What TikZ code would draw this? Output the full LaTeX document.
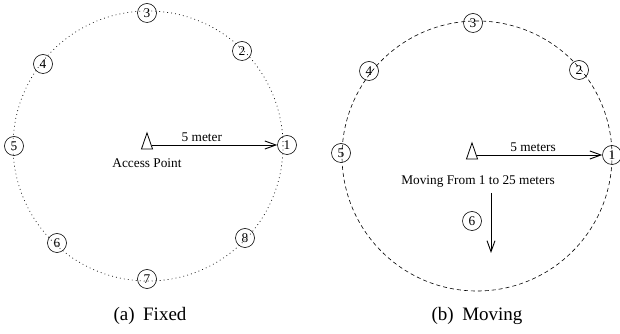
\documentclass[tikz,border=0pt]{standalone}
\usepackage{fontspec}
\setmainfont{Liberation Serif}
\usetikzlibrary{arrows.meta,shapes.geometric}
\begin{document}
\begin{tikzpicture}[x=1pt, y=1pt,
    main node/.style={circle, draw, line width=0.6pt, minimum size=19pt, inner sep=0pt},
    ap node/.style={isosceles triangle, shape border rotate=90, isosceles triangle stretches,
      draw, line width=0.8pt, minimum width=11pt, minimum height=16pt, inner sep=0pt},
    range arrow/.style={->, line width=0.9pt, >={Straight Barb[length=11pt,width=8pt]}},
    fixed ring/.style={line width=0.7pt, dash pattern=on 0.8pt off 3.2pt},
    moving ring/.style={line width=0.6pt, dash pattern=on 4pt off 3pt}]
  \tikzstyle{every node}=[font=\fontsize{13.3}{15}\selectfont]
  \useasboundingbox (0,0) rectangle (620,334);

  % (a) fixed positions
  \draw[fixed ring] (148,188) circle[radius=135pt];
  \node[ap node] (ap) at (147,189) {};
  \node[] (aplabel) [below of=ap, node distance=18pt] {Access Point};
  \node[main node] (a1) at (287,189) {1};
  \node[main node] (a2) at (242,283) {2};
  \node[main node] (a3) at (147,321) {3};
  \node[main node] (a4) at (43,270) {4};
  \node[main node] (a5) at (14,188) {5};
  \node[main node] (a6) at (57,91) {6};
  \node[main node] (a7) at (147,55) {7};
  \node[main node] (a8) at (245,96) {8};

  \path[range arrow]
    (ap.east) edge node [above, pos=0.4] {5 meter} (a1);

  % (b) moving node
  \draw[moving ring] (477,178) circle[radius=135pt];
  \node[ap node] (bp) at (472,179) {};
  \node[] (mvlabel) at (478,152) {Moving From 1 to 25 meters};
  \node[main node] (b1) at (612,179) {1};
  \node[main node] (b2) at (579,264) {2};
  \node[main node] (b3) at (473,311) {3};
  \node[main node] (b4) at (369,263) {4};
  \node[main node] (b5) at (341,181) {5};
  \node[main node] (b6) at (472,113) {6};
  \coordinate (mvtop) at (491,141);
  \coordinate (mvend) at (491,81);

  \path[range arrow]
    (bp.east) edge node [above, pos=0.45] {5 meters} (b1)
    (mvtop) edge (mvend);

  % captions
  \node[font=\fontsize{19}{22}\selectfont] (capa) at (150,18) {(a)\hspace{0.45em}Fixed};
  \node[font=\fontsize{19}{22}\selectfont] (capb) at (477,18) {(b)\hspace{0.45em}Moving};
\end{tikzpicture}
\end{document}
